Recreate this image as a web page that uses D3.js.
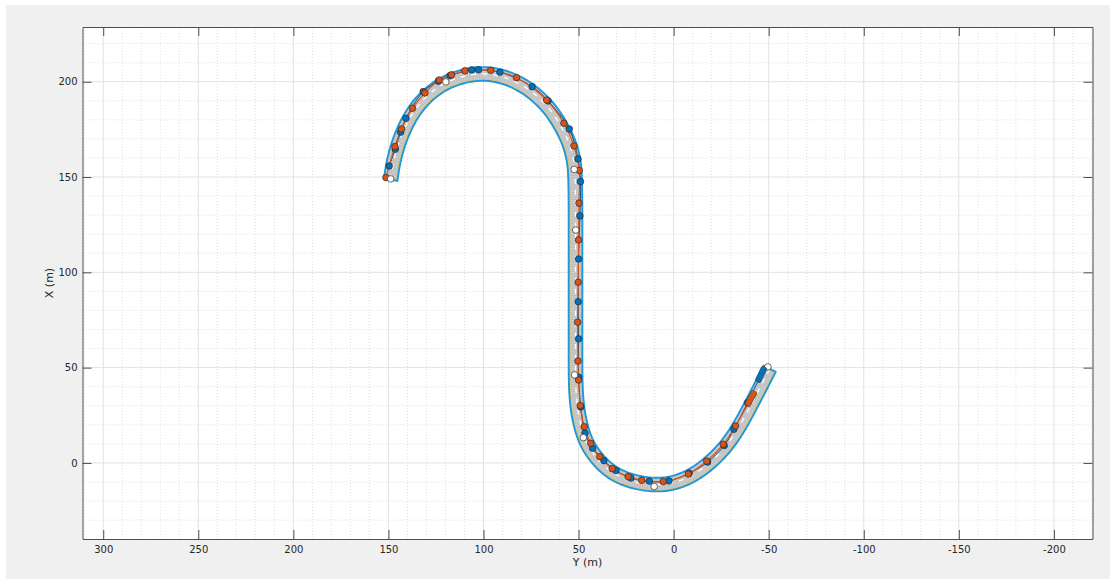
<!DOCTYPE html>
<html>
<head>
<meta charset="utf-8">
<script src="https://cdn.jsdelivr.net/npm/d3@7"></script>
<style>
  html, body { margin: 0; padding: 0; background: #ffffff; }
  svg { display: block; }
  text { font-family: "DejaVu Sans", sans-serif; fill: #262626; }
</style>
</head>
<body>
<svg id="chart" width="1110" height="579"></svg>
<script>
// Road centreline in metres, as [Y, X]
const roadCenter = [
  [148.8, 148.5], [147.8, 156.0], [145.5, 165.6], [142.1, 174.6], [137.7, 183.2],
  [131.7, 190.9], [124.2, 197.3], [115.2, 201.8], [105.4, 204.1], [97.0, 204.2],
  [89.5, 202.6], [83.3, 200.2], [75.4, 195.7], [67.4, 188.5], [62.8, 182.5],
  [59.5, 177.2], [56.5, 171.5], [54.3, 166.0], [52.6, 159.5], [51.9, 153.0],
  [51.7, 145.0], [51.6, 135.0], [51.6, 115.0], [51.6, 95.0], [51.6, 75.0],
  [51.6, 55.0], [51.6, 42.0], [50.9, 29.3], [48.5, 17.5], [45.3, 9.2],
  [40.3, 2.0], [33.5, -4.6], [24.6, -9.1], [12.9, -11.6], [1.9, -11.3],
  [-8.6, -7.6], [-18.7, -0.5], [-27.6, 8.5], [-34.3, 18.4], [-40.6, 30.2],
  [-46.0, 40.6], [-50.6, 49.6]
];
const roadWidth = 7.2; // metres

// Waypoints of the blue vehicle, [Y, X]; the last one is its current position
const blueStops = [
  [149.6, 155.8], [146.4, 164.6], [143.6, 173.5], [140.8, 180.8], [131.7, 194.8],
  [123.8, 200.3], [117.6, 203.2], [106.2, 206.2], [102.6, 206.3], [91.4, 205.0],
  [74.4, 197.4], [66.0, 189.9], [54.9, 175.2], [50.3, 159.5], [49.0, 147.6],
  [49.3, 129.6], [50.0, 107.0], [50.2, 84.6], [50.0, 65.1], [50.0, 45.0],
  [48.8, 29.4], [46.6, 15.7], [42.6, 7.7], [36.7, 1.2], [30.3, -4.0],
  [22.5, -7.9], [12.8, -9.6], [2.5, -9.4], [-8.2, -5.4], [-17.9, 0.5],
  [-26.6, 9.1], [-31.7, 17.7], [-38.9, 31.6], [-46.0, 46.4]
];

// Waypoints of the orange vehicle, [Y, X]; the last one is its current position
const orangeStops = [
  [151.3, 149.7], [146.6, 166.0], [143.1, 175.2], [137.3, 186.1], [130.8, 194.1],
  [123.3, 200.9], [116.8, 203.6], [109.8, 205.7], [96.2, 206.0], [82.6, 202.1],
  [66.8, 190.4], [57.7, 178.2], [52.4, 166.3], [49.6, 153.4], [49.8, 136.3],
  [50.0, 117.0], [50.2, 94.8], [50.5, 73.8], [50.3, 53.5], [50.0, 43.5],
  [49.1, 30.1], [47.0, 19.0], [43.6, 10.3], [38.8, 3.3], [32.3, -3.0],
  [23.9, -7.2], [16.8, -9.1], [5.5, -9.8], [-7.7, -5.8], [-17.4, 1.0],
  [-26.1, 9.8], [-32.6, 19.4], [-40.6, 33.8]
];

// Unassigned waypoints, [Y, X]
const openStops = [
  [148.8, 149.0], [119.8, 199.9], [52.3, 154.0], [51.5, 122.2],
  [52.1, 46.2], [47.5, 13.3], [10.2, -12.4], [-49.6, 50.4]
];

const xTicks = [300, 250, 200, 150, 100, 50, 0, -50, -100, -150, -200];
const yTicks = [0, 50, 100, 150, 200];
const xDomain = [310.9, -220.3];
const yDomain = [-39.9, 228.7];
const xLabel = "Y (m)";
const yLabel = "X (m)";

const vehicleLength = 8.5, vehicleWidth = 3.0; // metres

const colors = { blue: "#0072BD", orange: "#D95319", edge: "#1e98da" };

const svg = d3.select("#chart");
const W = 1110, H = 579;
const plot = { left: 82.5, right: 1092.5, top: 27, bottom: 539 };

const x = d3.scaleLinear().domain(xDomain).range([plot.left, plot.right]);
const y = d3.scaleLinear().domain(yDomain).range([plot.bottom, plot.top]);
const pxPerMetre = Math.abs(x(1) - x(0));

// figure background
svg.append("rect").attr("width", W).attr("height", H).attr("fill", "#ffffff");
svg.append("rect").attr("x", 6).attr("y", 5).attr("width", W - 6).attr("height", H - 5).attr("fill", "#f0f0f0");
svg.append("rect")
  .attr("x", plot.left).attr("y", plot.top)
  .attr("width", plot.right - plot.left).attr("height", plot.bottom - plot.top)
  .attr("fill", "#ffffff");

svg.append("clipPath").attr("id", "clip").append("rect")
  .attr("x", plot.left).attr("y", plot.top)
  .attr("width", plot.right - plot.left).attr("height", plot.bottom - plot.top);

// grid
const grid = svg.append("g").attr("clip-path", "url(#clip)");
const minorX = d3.range(-220, 320, 10).filter(v => v % 50 !== 0);
const minorY = d3.range(-30, 230, 10).filter(v => v % 50 !== 0);
grid.selectAll(".mx").data(minorX).join("line")
  .attr("x1", d => x(d)).attr("x2", d => x(d)).attr("y1", plot.top).attr("y2", plot.bottom)
  .attr("stroke", "#d2d2d2").attr("stroke-width", 0.7).attr("stroke-dasharray", "1,2");
grid.selectAll(".my").data(minorY).join("line")
  .attr("y1", d => y(d)).attr("y2", d => y(d)).attr("x1", plot.left).attr("x2", plot.right)
  .attr("stroke", "#d2d2d2").attr("stroke-width", 0.7).attr("stroke-dasharray", "1,2");
const majorX = d3.range(-200, 320, 50);
grid.selectAll(".gx").data(majorX).join("line")
  .attr("x1", d => x(d)).attr("x2", d => x(d)).attr("y1", plot.top).attr("y2", plot.bottom)
  .attr("stroke", "#e2e2e2").attr("stroke-width", 1);
grid.selectAll(".gy").data(yTicks).join("line")
  .attr("y1", d => y(d)).attr("y2", d => y(d)).attr("x1", plot.left).attr("x2", plot.right)
  .attr("stroke", "#e2e2e2").attr("stroke-width", 1);

// road
const scene = svg.append("g").attr("clip-path", "url(#clip)");
const roadLine = d3.line().x(d => x(d[0])).y(d => y(d[1])).curve(d3.curveBasis);
const trackLine = d3.line().x(d => x(d[0])).y(d => y(d[1])).curve(d3.curveCatmullRom.alpha(0.5));

const guide = scene.append("path").attr("d", roadLine(roadCenter)).attr("fill", "none").attr("stroke", "none");
const node = guide.node();
const total = node.getTotalLength();
const step = 2.4;
const samples = [];
for (let s = 0; s <= total + 0.01; s += step) {
  const t = Math.min(s, total);
  const a = node.getPointAtLength(Math.max(0, t - 0.8));
  const b = node.getPointAtLength(Math.min(total, t + 0.8));
  const p = node.getPointAtLength(t);
  const dx = b.x - a.x, dy = b.y - a.y, len = Math.hypot(dx, dy) || 1;
  samples.push({ x: p.x, y: p.y, nx: dy / len, ny: -dx / len }); // left-of-travel normal
}
const hw = roadWidth / 2 * pxPerMetre;
const off = (p, d) => [p.x + p.nx * d, p.y + p.ny * d];
const leftEdge = samples.map(p => off(p, hw));
const rightEdge = samples.map(p => off(p, -hw));
const outline = "M" + leftEdge.concat(rightEdge.slice().reverse()).map(p => p.join(",")).join("L") + "Z";

scene.append("path").attr("d", outline).attr("fill", "#cbcbcb");
scene.append("g").selectAll("line").data(samples).join("line")
  .attr("x1", p => off(p, hw)[0]).attr("y1", p => off(p, hw)[1])
  .attr("x2", p => off(p, -hw)[0]).attr("y2", p => off(p, -hw)[1])
  .attr("stroke", "#b4b4b4").attr("stroke-width", 0.6);

const pl = d3.line();
// yellow boundary marking along the right-hand side
scene.append("path").attr("d", pl(samples.map(p => off(p, -hw + 1.2))))
  .attr("fill", "none").attr("stroke", "#e7c64a").attr("stroke-width", 0.9);
// dashed white centre marking
scene.append("path").attr("d", pl(samples.map(p => [p.x, p.y])))
  .attr("fill", "none").attr("stroke", "#ffffff").attr("stroke-width", 1.3)
  .attr("stroke-dasharray", "5,6");
// road outline
scene.append("path").attr("d", outline)
  .attr("fill", "none").attr("stroke", colors.edge).attr("stroke-width", 1.9)
  .attr("stroke-linejoin", "round");

// trajectories
scene.append("path").attr("d", trackLine(blueStops))
  .attr("fill", "none").attr("stroke", "#1d4f7a").attr("stroke-width", 1);
scene.append("path").attr("d", trackLine(orangeStops))
  .attr("fill", "none").attr("stroke", colors.orange).attr("stroke-width", 1.2);

// waypoints
function stops(data, fill) {
  scene.append("g").selectAll("circle").data(data).join("circle")
    .attr("cx", d => x(d[0])).attr("cy", d => y(d[1])).attr("r", 3.3)
    .attr("fill", fill).attr("stroke", "#2a2a2a").attr("stroke-width", 0.7);
}
stops(blueStops.slice(0, -1), colors.blue);
stops(orangeStops.slice(0, -1), colors.orange);
stops(openStops, "#ffffff");

// vehicles, oriented along their last leg
function vehicle(path, fill) {
  const cur = path[path.length - 1], prev = path[path.length - 2];
  const ang = Math.atan2(y(cur[1]) - y(prev[1]), x(cur[0]) - x(prev[0])) * 180 / Math.PI;
  const L = vehicleLength * pxPerMetre, Wd = vehicleWidth * pxPerMetre;
  scene.append("rect")
    .attr("x", -L / 2).attr("y", -Wd / 2).attr("width", L).attr("height", Wd)
    .attr("rx", 1.2).attr("fill", fill).attr("stroke", "#3a3a3a").attr("stroke-width", 0.6)
    .attr("transform", `translate(${x(cur[0])},${y(cur[1])}) rotate(${ang})`);
}
vehicle(orangeStops, colors.orange);
vehicle(blueStops, colors.blue);

// axes (box with inward ticks on all sides)
const axisColor = "#4d4d4d";
const gB = svg.append("g").attr("transform", `translate(0,${plot.bottom})`)
  .call(d3.axisBottom(x).tickValues(xTicks).tickSizeInner(-9).tickSizeOuter(0).tickPadding(7)
    .tickFormat(d => String(d)));
const gT = svg.append("g").attr("transform", `translate(0,${plot.top})`)
  .call(d3.axisTop(x).tickValues(xTicks).tickSizeInner(-9).tickSizeOuter(0).tickFormat(""));
const gL = svg.append("g").attr("transform", `translate(${plot.left},0)`)
  .call(d3.axisLeft(y).tickValues(yTicks).tickSizeInner(-9).tickSizeOuter(0).tickPadding(5)
    .tickFormat(d => String(d)));
const gR = svg.append("g").attr("transform", `translate(${plot.right},0)`)
  .call(d3.axisRight(y).tickValues(yTicks).tickSizeInner(-9).tickSizeOuter(0).tickFormat(""));
[gB, gT, gL, gR].forEach(g => {
  g.select(".domain").attr("stroke", axisColor).attr("stroke-width", 1);
  g.selectAll(".tick line").attr("stroke", axisColor).attr("stroke-width", 1);
  g.selectAll(".tick text").attr("fill", "#262626").attr("font-size", 10)
    .attr("font-family", "DejaVu Sans, sans-serif");
});

svg.append("text").attr("x", (plot.left + plot.right) / 2).attr("y", 566)
  .attr("text-anchor", "middle").attr("font-size", 11).text(xLabel);
svg.append("text")
  .attr("transform", `translate(53,${(plot.top + plot.bottom) / 2}) rotate(-90)`)
  .attr("text-anchor", "middle").attr("font-size", 11).text(yLabel);
</script>
</body>
</html>
